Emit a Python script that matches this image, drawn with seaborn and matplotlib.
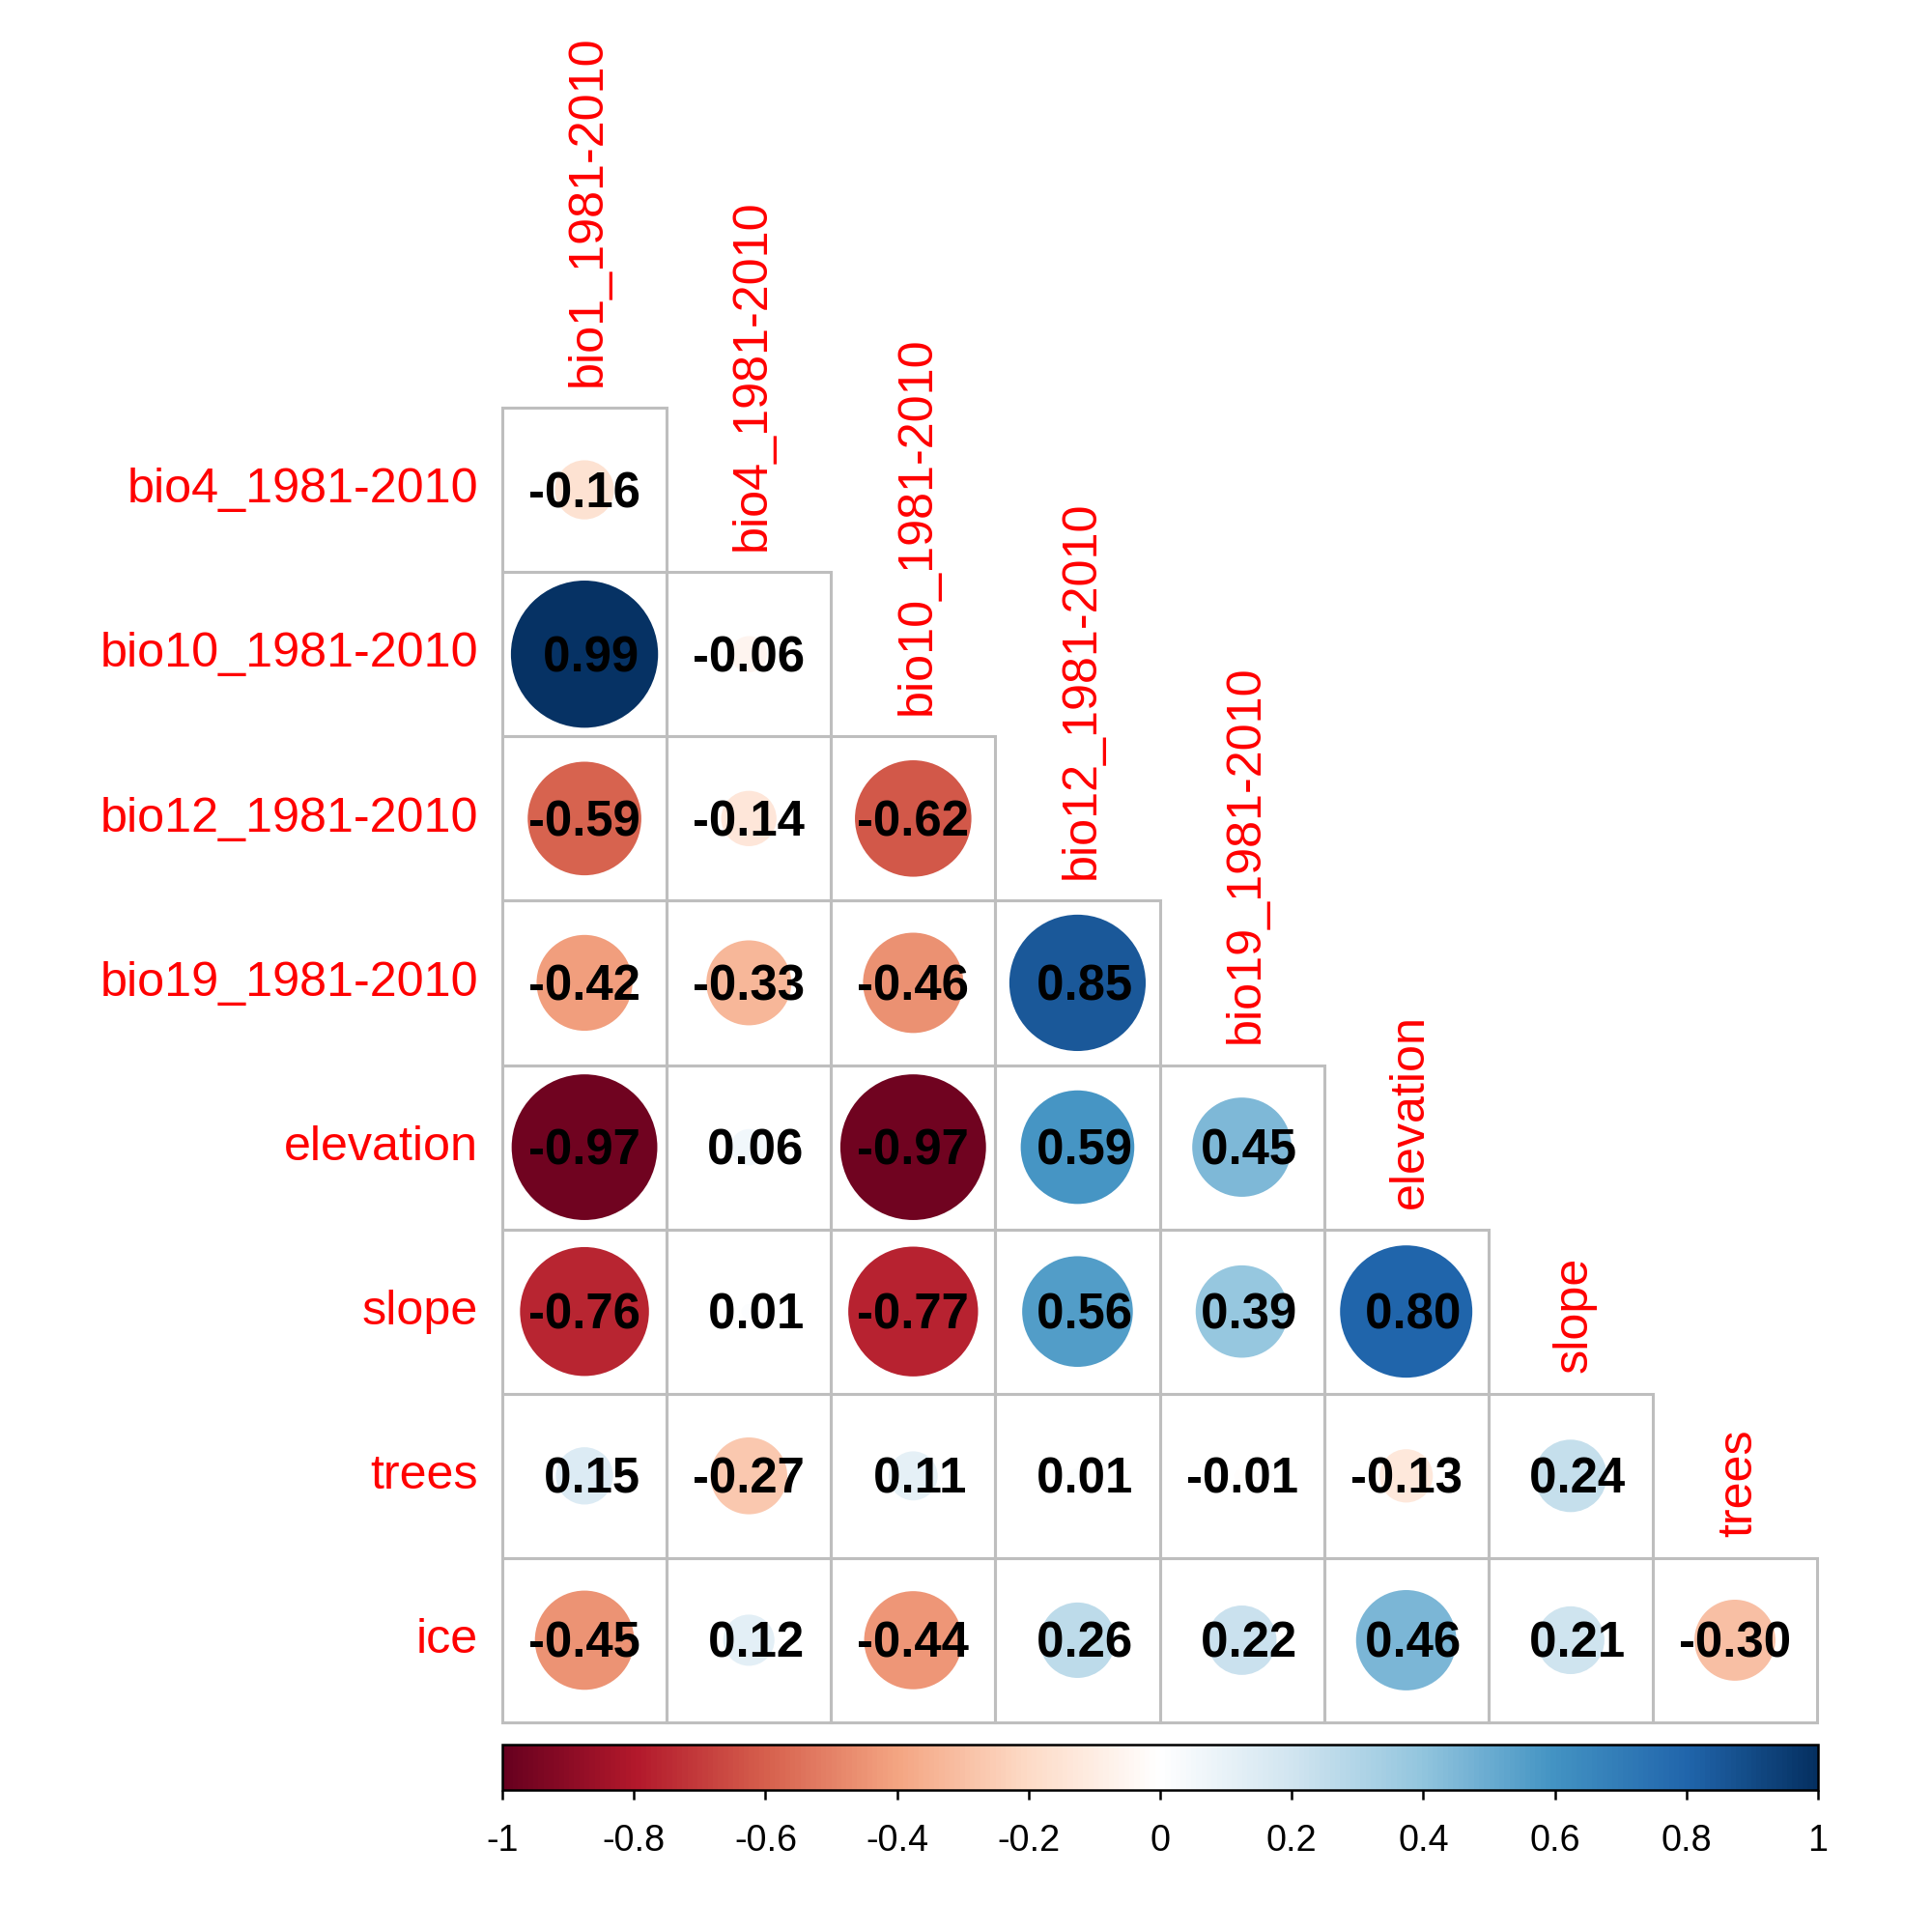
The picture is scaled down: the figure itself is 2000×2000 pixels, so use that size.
import numpy as np
import pandas as pd
import seaborn as sns
import matplotlib.pyplot as plt
from matplotlib.colors import LinearSegmentedColormap, Normalize
from matplotlib.cm import ScalarMappable

sns.set_style("white")
plt.rcParams['font.family'] = ['Liberation Sans', 'DejaVu Sans']

# variables (columns = all but last, rows = all but first)
col_names = ["bio1_1981-2010", "bio4_1981-2010", "bio10_1981-2010", "bio12_1981-2010",
             "bio19_1981-2010", "elevation", "slope", "trees"]
row_names = ["bio4_1981-2010", "bio10_1981-2010", "bio12_1981-2010", "bio19_1981-2010",
             "elevation", "slope", "trees", "ice"]

# lower triangle correlations, one list per row
r_bio4 = [-0.16]
r_bio10 = [0.99, -0.06]
r_bio12 = [-0.59, -0.14, -0.62]
r_bio19 = [-0.42, -0.33, -0.46, 0.85]
r_elevation = [-0.97, 0.06, -0.97, 0.59, 0.45]
r_slope = [-0.76, 0.01, -0.77, 0.56, 0.39, 0.80]
r_trees = [0.15, -0.27, 0.11, 0.01, -0.01, -0.13, 0.24]
r_ice = [-0.45, 0.12, -0.44, 0.26, 0.22, 0.46, 0.21, -0.30]
rows_vals = [r_bio4, r_bio10, r_bio12, r_bio19, r_elevation, r_slope, r_trees, r_ice]

cbar_ticks = [-1, -0.8, -0.6, -0.4, -0.2, 0, 0.2, 0.4, 0.6, 0.8, 1]
cbar_ticklabels = ["-1", "-0.8", "-0.6", "-0.4", "-0.2", "0", "0.2", "0.4", "0.6", "0.8", "1"]

# corrplot RdBu ramp
rdbu = LinearSegmentedColormap.from_list("corr_rdbu", [
    "#67001F", "#B2182B", "#D6604D", "#F4A582", "#FDDBC7", "#FFFFFF",
    "#D1E5F0", "#92C5DE", "#4393C3", "#2166AC", "#053061"])

recs = []
for i, vals in enumerate(rows_vals):
    for j, v in enumerate(vals):
        recs.append({"row": i, "col": j, "r": v, "absr": abs(v)})
df = pd.DataFrame(recs)
df["x"] = df["col"] + 0.5
df["y"] = df["row"] + 0.5

fig = plt.figure(figsize=(10, 10), dpi=200)
ax = fig.add_axes([0.26, 0.1085, 0.6805, 0.6805])

n = len(row_names)
cell_pt = 0.6805 * 10 * 72 / n
smax = (0.9 * cell_pt) ** 2

sns.scatterplot(data=df, x="x", y="y", hue="r", size="absr",
                palette=rdbu, hue_norm=(-1, 1),
                sizes=(0, smax), size_norm=(0, 1),
                linewidth=0, legend=False, ax=ax, zorder=2)

# grid of cells
grid_col = "#BEBEBE"
for i in range(n):
    for j in range(i + 1):
        ax.add_patch(plt.Rectangle((j, i), 1, 1, fill=False, edgecolor=grid_col,
                                   linewidth=1.1, zorder=1, clip_on=False))

# numbers
for _, rw in df.iterrows():
    ax.text(rw["x"], rw["y"] + 0.106, f"{rw['r']: .2f}", ha="center", va="baseline",
            fontsize=18.3, fontweight="bold", color="black", zorder=3)

# row labels
for i, name in enumerate(row_names):
    ax.text(-0.147, i + 0.5 + 0.078, name, ha="right", va="baseline",
            fontsize=18.1, color="red")

# column labels
for j, name in enumerate(col_names):
    ax.text(j + 0.6, j - 0.13, name, rotation=90, rotation_mode="anchor",
            ha="left", va="baseline", fontsize=18.1, color="red")

ax.set_xlim(0, n)
ax.set_ylim(n, 0)
ax.axis("off")

# colour legend
cax = fig.add_axes([0.26, 0.0735, 0.681, 0.0235])
sm = ScalarMappable(norm=Normalize(-1, 1), cmap=rdbu)
cb = fig.colorbar(sm, cax=cax, orientation="horizontal")
cb.set_ticks(cbar_ticks)
cb.set_ticklabels(cbar_ticklabels)
cb.outline.set_linewidth(0.9)
cb.outline.set_edgecolor("black")
cax.tick_params(axis="x", direction="out", length=3.6, width=0.9, pad=9,
                labelsize=13.6, colors="black")

fig.savefig("out.png", dpi=200, facecolor="white")
